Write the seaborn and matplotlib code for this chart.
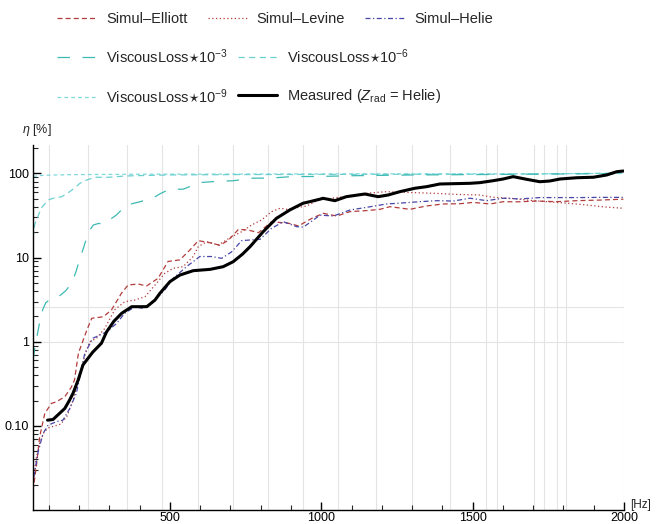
import numpy as np
import pandas as pd
import matplotlib
matplotlib.use('Agg')
import matplotlib.pyplot as plt
import seaborn as sns
from matplotlib.ticker import FixedLocator, FixedFormatter, LogLocator, NullFormatter, MultipleLocator

# ── Data ─────────────────────────────────────────────────────────────────────
f_meas = [96, 114, 135, 153, 168, 180, 197, 213, 245, 274, 291, 315, 341, 374, 424, 451, 467,
          500, 533, 577, 633, 676, 709, 740, 765, 808, 852, 896, 940, 962, 995, 1006, 1045,
          1083, 1144, 1188, 1221, 1260, 1309, 1348, 1392, 1491, 1524, 1568, 1601, 1634, 1678,
          1722, 1755, 1789, 1844, 1899, 1943, 1976, 1998]
eta_meas = [0.117, 0.119, 0.14, 0.161, 0.2, 0.243, 0.35, 0.53, 0.75, 0.96, 1.31, 1.75, 2.18,
            2.61, 2.61, 3.13, 3.76, 5.17, 6.2, 6.99, 7.25, 7.8, 8.93, 11, 13.5, 20.3, 29.3,
            36.8, 44.3, 46.2, 49.4, 50.7, 47.5, 53, 57, 53, 55.5, 60.8, 66.7, 69.7, 75, 76.4,
            77.8, 82.1, 86, 91.7, 85.3, 79.8, 81.4, 86, 89, 90.2, 96, 105, 107]

f_ell = [48, 59, 70, 87, 109, 125, 153, 175, 185, 198, 226, 242, 280, 307, 340, 362, 395, 423,
         461, 494, 533, 566, 594, 633, 666, 694, 727, 760, 793, 836, 892, 925, 969, 1007, 1051,
         1095, 1150, 1194, 1227, 1293, 1348, 1403, 1458, 1502, 1558, 1601, 1646, 1712, 1778,
         1844, 1921, 1998]
eta_ell = [0.017, 0.033, 0.074, 0.141, 0.185, 0.193, 0.222, 0.29, 0.35, 0.73, 1.38, 1.9, 1.98,
           2.38, 3.76, 4.72, 4.86, 4.6, 5.67, 9.0, 9.4, 12.3, 15.9, 15, 14, 16.2, 21.7, 21.2,
           19.8, 26.7, 25.6, 23.8, 29.3, 33.6, 31.2, 35.2, 36.2, 37.5, 40.3, 37.5, 41.1, 43.4,
           43.7, 45.3, 43.4, 46.2, 46, 47, 46.2, 47.5, 48.3, 49.5]

f_lev = [48, 58, 70, 85, 100, 120, 140, 160, 180, 200, 220, 235, 258, 285, 318, 351, 384, 418,
         456, 483, 511, 544, 577, 594, 622, 660, 704, 737, 770, 803, 836, 864, 886, 915, 952,
         990, 1073, 1150, 1216, 1293, 1370, 1447, 1524, 1568, 1623, 1678, 1744, 1810, 1876,
         1943, 1998]
eta_lev = [0.02, 0.04, 0.062, 0.085, 0.095, 0.1, 0.105, 0.13, 0.2, 0.38, 0.7, 1.0, 1.1, 1.44,
           2.4, 2.99, 3.13, 3.43, 4.95, 6.5, 7.46, 7.8, 10.3, 13.5, 15.5, 14.1, 17.7, 20.3, 24.4,
           28, 35.2, 38.6, 37.5, 39, 41, 48.4, 53, 58.2, 60.8, 59.4, 58.2, 56.4, 55.5, 52.1,
           50.8, 48.4, 46.2, 44.4, 42.2, 39.8, 38.6]

f_hel = [51, 65, 81, 98, 125, 147, 169, 191, 202, 219, 246, 291, 324, 351, 384, 412, 445, 483,
         511, 555, 599, 638, 671, 704, 737, 765, 798, 836, 875, 919, 941, 974, 996, 1040, 1095,
         1150, 1216, 1260, 1326, 1381, 1436, 1491, 1546, 1601, 1656, 1722, 1789, 1855, 1921, 1998]
eta_hel = [0.025, 0.049, 0.081, 0.102, 0.112, 0.117, 0.16, 0.243, 0.37, 0.73, 1.1, 1.31, 1.65,
           2.18, 2.6, 2.49, 2.99, 4.12, 5.67, 7.8, 10.3, 10.3, 9.8, 11.7, 15.9, 16.2, 16.5,
           22.3, 26.7, 23.3, 23, 28, 32, 31.2, 36.8, 39.6, 43.4, 44.4, 46.2, 47.5, 47, 50.8,
           47.5, 50.8, 49.8, 51.7, 51.7, 51.7, 52, 52]

f_v3 = [48, 53, 62, 70, 80, 90, 100, 115, 135, 155, 175, 190, 200, 210, 220, 235, 247, 265,
        280, 300, 323, 356, 400, 444, 470, 500, 544, 599, 643, 709, 775, 830, 907, 984, 1100,
        1300, 1500, 1700, 2000]
eta_v3 = [0.6, 0.8, 1.2, 1.7, 2.4, 2.9, 3.1, 3.4, 3.5, 4.0, 4.9, 6.8, 9, 11.5, 15, 21, 24.4,
          25.5, 25, 28, 32, 42, 46, 51, 58, 65, 65, 78, 80, 82, 88, 88, 92, 92, 94, 96, 97, 98, 100]

f_v6 = [48, 54, 64, 75, 98, 114, 142, 158, 175, 191, 202, 220, 235, 257, 296, 351, 406, 500,
        700, 1000, 1300, 1600, 2000]
eta_v6 = [17, 25, 30.6, 38.6, 48.4, 50.7, 52.9, 56.9, 63, 69.7, 76, 82, 86, 90.2, 90, 93.3,
          94.5, 96, 97, 97.5, 98, 98, 101]

f_v9 = [48, 60, 80, 120, 200, 400, 800, 1200, 1600, 2000]
eta_v9 = [92, 93.5, 95, 96, 97, 98, 98.5, 99, 99, 100]

grid_f = [100, 229, 358, 474, 592, 708, 824, 939, 1055, 1181, 1300, 1425, 1544, 1580, 1702,
          1735, 1778, 1808, 2000]
grid_eta = [1, 2.6]

# ── Style ────────────────────────────────────────────────────────────────────
sns.set_style('white')
plt.rcParams['font.family'] = ['Liberation Sans', 'DejaVu Sans']
plt.rcParams['mathtext.fontset'] = 'custom'
plt.rcParams['mathtext.rm'] = 'Liberation Sans'
plt.rcParams['mathtext.it'] = 'Liberation Sans:italic'
plt.rcParams['mathtext.fallback'] = 'stixsans'

RED = '#b23c3c'
BLUE = '#4646a8'
TEAL3 = '#3dbab3'
TEAL6 = '#6cd0d0'
TEAL9 = '#7fd8dc'

L_V3 = 'ViscousLoss$\\star$10$^{-3}$'
L_V6 = 'ViscousLoss$\\star$10$^{-6}$'
L_V9 = 'ViscousLoss$\\star$10$^{-9}$'
L_MEAS = 'Measured ($Z_{\\mathrm{rad}}$ = Helie)'

W, H = 656, 524
fig = plt.figure(figsize=(W / 100, H / 100), dpi=100)
ax = fig.add_axes([33 / W, 1 - 510 / H, (624 - 33) / W, (510 - 145) / H])

for g in grid_f:
    ax.axvline(g, color='#e4e4e4', lw=0.8, zorder=0)
for g in grid_eta:
    ax.axhline(g, color='#e4e4e4', lw=0.8, zorder=0)

series = [
    (f_v9, eta_v9, TEAL9, (0, (3, 2.5)), 0.9, L_V9),
    (f_v6, eta_v6, TEAL6, (0, (5, 3.5)), 0.9, L_V6),
    (f_v3, eta_v3, TEAL3, (0, (10, 10)), 0.9, L_V3),
    (f_ell, eta_ell, RED, (0, (4, 2.5)), 0.9, 'Simul–Elliott'),
    (f_lev, eta_lev, RED, (0, (1, 2)), 0.9, 'Simul–Levine'),
    (f_hel, eta_hel, BLUE, (0, (4, 2, 1, 2)), 0.9, 'Simul–Helie'),
    (f_meas, eta_meas, 'black', '-', 2.2, L_MEAS),
]
handles = {}
for fx, ey, col, ls, lw, lab in series:
    df = pd.DataFrame({'f': fx, 'eta': ey})
    sns.lineplot(data=df, x='f', y='eta', ax=ax, color=col, linestyle=ls, lw=lw,
                 sort=False, estimator=None)
    handles[lab] = ax.lines[-1]

ax.set_yscale('log')
ax.set_xlim(48, 2000)
ax.set_ylim(0.01, 218)
ax.set_xlabel('')
ax.set_ylabel('')

# ── Axes ─────────────────────────────────────────────────────────────────────
for s in ['top', 'right']:
    ax.spines[s].set_visible(False)
for s in ['left', 'bottom']:
    ax.spines[s].set_color('black')
    ax.spines[s].set_linewidth(1.0)

ax.xaxis.set_major_locator(FixedLocator([500, 1000, 1500, 2000]))
ax.xaxis.set_major_formatter(FixedFormatter(['500', '1000', '1500', '2000']))
ax.xaxis.set_minor_locator(MultipleLocator(100))
ax.yaxis.set_major_locator(FixedLocator([0.1, 1, 10, 100]))
ax.yaxis.set_major_formatter(FixedFormatter(['0.10', '1', '10', '100']))
ax.yaxis.set_minor_locator(LogLocator(base=10, subs=np.arange(2, 10)))
ax.yaxis.set_minor_formatter(NullFormatter())
ax.tick_params(axis='both', which='major', direction='in', length=6, width=1,
               labelsize=9, colors='black', left=True, bottom=True)
ax.tick_params(axis='x', which='major', pad=1.5)
ax.tick_params(axis='y', which='major', pad=3)
ax.tick_params(axis='both', which='minor', direction='in', length=3.5, width=0.8,
               left=True, bottom=True)

fig.text(22 / W, 1 - 130 / H, '$\\eta$ [%]', fontsize=9, ha='left', va='center')
fig.text(630 / W, 1 - 505 / H, '[Hz]', fontsize=8.5, ha='left', va='center')

# ── Legends ──────────────────────────────────────────────────────────────────
leg_kw = dict(frameon=False, fontsize=10.5, handlelength=2.7, handletextpad=0.65,
              borderpad=0, borderaxespad=0, labelspacing=1.5)
row1 = ['Simul–Elliott', 'Simul–Levine', 'Simul–Helie']
leg1 = fig.legend([handles[k] for k in row1], row1, ncol=3, loc='center left',
                  bbox_to_anchor=(57 / W, 1 - 19 / H), columnspacing=1.4, **leg_kw)
rest = [L_V3, L_V9, L_V6, L_MEAS]
leg2 = fig.legend([handles[k] for k in rest], rest, ncol=2, loc='center left',
                  bbox_to_anchor=(57 / W, 1 - 76 / H), columnspacing=0.7, **leg_kw)

fig.savefig('out.png', dpi=100)
